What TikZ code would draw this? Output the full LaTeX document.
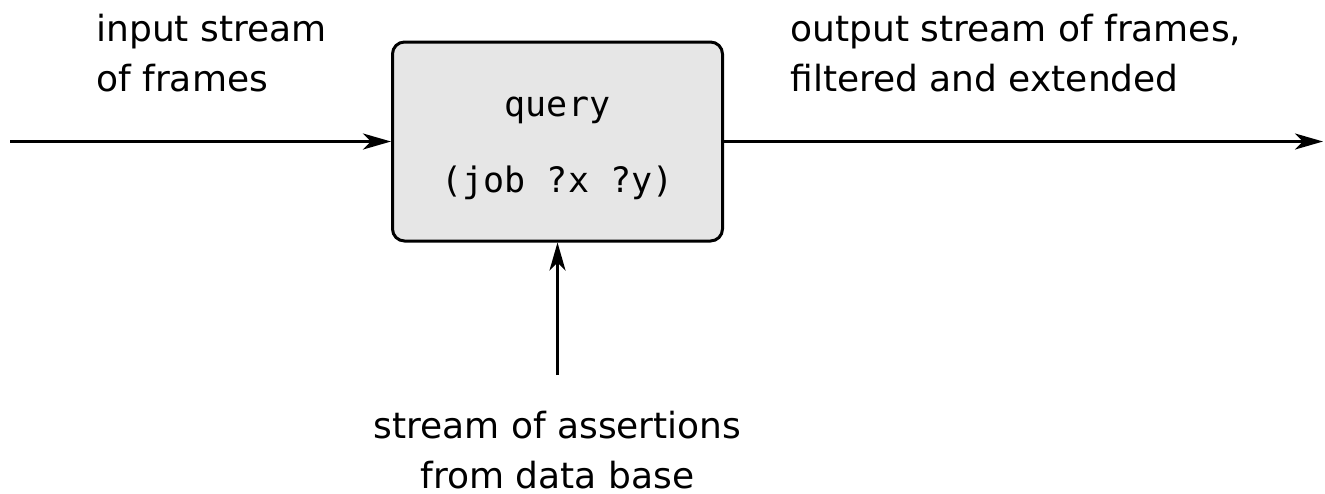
\documentclass[tikz,border=0pt]{standalone}
\usepackage{fontspec}
\setmainfont{DejaVu Sans}
\setmonofont{DejaVu Sans Mono}
\usetikzlibrary{arrows.meta,positioning}
\definecolor{boxfill}{HTML}{E6E6E6}

\begin{document}
\begin{tikzpicture}[x=0.5pt,y=-0.5pt,
    flow/.style={line width=1.5pt,-{Stealth[length=14pt,width=8pt,inset=4pt]}},
    label/.style={font=\fontsize{18}{25}\selectfont,inner sep=0pt}]
  \useasboundingbox (0,0) rectangle (1325,493);

  % Query box
  \node[draw,line width=1.5pt,fill=boxfill,rounded corners=6pt,
        minimum width=165pt,minimum height=99.5pt,align=center,
        font=\ttfamily\fontsize{17.5}{38}\selectfont] (query) at (557.5,141.5)
        {\rule{0pt}{17pt}query\\(job ?x ?y)};

  % Streams
  \coordinate (src) at (10,141.5);
  \coordinate (dst) at (1323,141.5);
  \coordinate (db) at (557.5,375);
  \draw[flow] (src) -- (query.west);
  \draw[flow] (query.east) -- (dst);
  \draw[flow] (db) -- (query.south);

  % Labels
  \node[label,anchor=north west,align=left] (inlabel) at (96,14) {input stream\\of frames};
  \node[label,anchor=north west,align=left] (outlabel) at (790,14) {output stream of frames,\\filtered and extended};
  \node[label,anchor=north,align=center] (dblabel) at (557.5,411) {stream of assertions\\from data base};
\end{tikzpicture}
\end{document}
